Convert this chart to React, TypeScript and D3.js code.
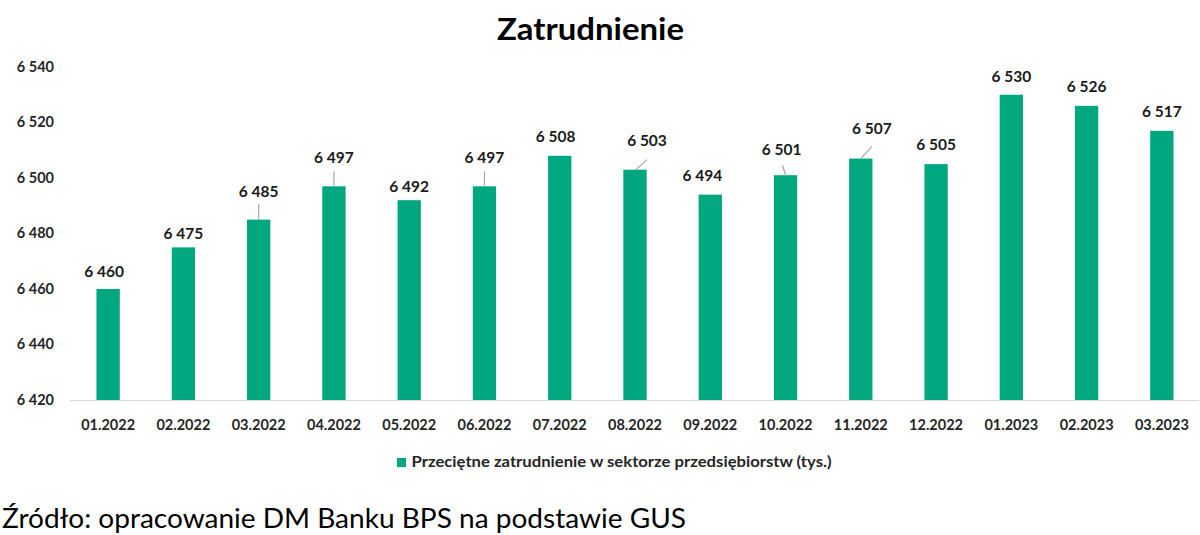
import React from "react";
import * as d3 from "d3";

const categories = ["01.2022","02.2022","03.2022","04.2022","05.2022","06.2022","07.2022","08.2022","09.2022","10.2022","11.2022","12.2022","01.2023","02.2023","03.2023"];
const values = [6460, 6475, 6485, 6497, 6492, 6497, 6508, 6503, 6494, 6501, 6507, 6505, 6530, 6526, 6517];
const yTicks = [6420, 6440, 6460, 6480, 6500, 6520, 6540];
const seriesName = "Przeciętne zatrudnienie w sektorze przedsiębiorstw (tys.)";
const title = "Zatrudnienie";
const source = "Źródło: opracowanie DM Banku BPS na podstawie GUS";

// label layout: [dx, dy(baseline rel. bar top), leaderStartDx, leaderStartDy, leaderEndDx] (leader optional)
const labelLayout: number[][] = [
  [-4, -12],
  [0, -8],
  [0, -23, 0, -16, 0],
  [0, -23, 0, -15, 0],
  [0, -8],
  [0, -23, 0, -15, 0],
  [-4, -14],
  [12, -24, 12, -10, 1],
  [-8, -14],
  [-4, -20, -3, -10, 0],
  [11, -25, 11, -12, 0],
  [0, -14],
  [0, -12.5],
  [0, -14],
  [0, -14],
];

const W = 1200, H = 535;
const FONT = "Lato, 'Open Sans', sans-serif";
const GREEN = "#00a77f";

export default function App() {
  const x = d3.scaleBand<string>().domain(categories).range([70.5, 1199.5]).paddingInner(0.69).paddingOuter(0.345);
  const y = d3.scaleLinear().domain([6420, 6540]).range([400, 67]);
  const fmt = (v: number) => d3.format(",")(v).replace(/,/g, " ");
  const bw = x.bandwidth();

  return (
    <svg width={W} height={H} style={{ position: "absolute", left: 0, top: 0, background: "#fff" }} fontFamily={FONT}>
      <rect width={W} height={H} fill="#fff" />
      <text x={590.5} y={40} textAnchor="middle" fontSize={30.5} fontWeight={700} fill="#000" textLength={187} lengthAdjust="spacingAndGlyphs">{title}</text>

      {yTicks.map((t) => (
        <text key={t} x={54} y={y(t) + 4.8} textAnchor="end" fontSize={14.5} fontWeight={700} fill="#262626">{fmt(t)}</text>
      ))}

      <line x1={70} x2={1199} y1={y(6420) + 0.5} y2={y(6420) + 0.5} stroke="#d9d9d9" strokeWidth={1} />

      {values.map((v, i) => {
        const cx = (x(categories[i]) as number) + bw / 2;
        const top = y(v);
        const L = labelLayout[i];
        return (
          <g key={i}>
            <rect x={x(categories[i])} y={top} width={bw} height={y(6420) - top} fill={GREEN} />
            {L.length > 2 && (
              <line x1={cx + L[2]} y1={top + L[3]} x2={cx + L[4]} y2={top} stroke="#a6a6a6" strokeWidth={1.2} />
            )}
            <text x={cx + L[0]} y={top + L[1]} textAnchor="middle" fontSize={15.5} fontWeight={700} fill="#1a1a1a">{fmt(v)}</text>
          </g>
        );
      })}

      {categories.map((c) => (
        <text key={c} x={(x(c) as number) + bw / 2} y={430} textAnchor="middle" fontSize={14.5} fontWeight={700} fill="#262626">{c}</text>
      ))}

      <rect x={397} y={458} width={9} height={9} fill={GREEN} />
      <text x={411.5} y={467} fontSize={14.5} fontWeight={700} fill="#262626" textLength={420} lengthAdjust="spacingAndGlyphs">{seriesName}</text>

      <text x={2} y={528} fontSize={27} fill="#000" textLength={684} lengthAdjust="spacingAndGlyphs">{source}</text>
    </svg>
  );
}
